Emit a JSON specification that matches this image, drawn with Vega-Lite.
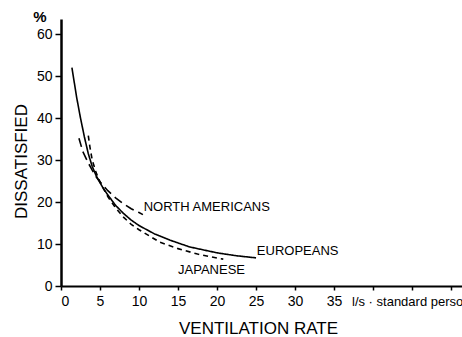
{
  "$schema": "https://vega.github.io/schema/vega-lite/v6.json",
  "width": 401,
  "height": 267,
  "autosize": {"type": "none"},
  "padding": {"left": 61, "top": 19, "right": 0, "bottom": 51},
  "background": "white",
  "config": {
    "view": {"stroke": null},
    "font": "Liberation Sans",
    "axis": {"labelFont": "Liberation Sans", "titleFont": "Liberation Sans", "labelColor": "black", "titleColor": "black", "domainColor": "black", "tickColor": "black", "grid": false}
  },
  "datasets": {
    "curves": [
      {"group": "Europeans", "q": 1.4, "pd": 52},
      {"group": "Europeans", "q": 2, "pd": 45},
      {"group": "Europeans", "q": 2.5, "pd": 40},
      {"group": "Europeans", "q": 3, "pd": 35.5},
      {"group": "Europeans", "q": 3.5, "pd": 31.5},
      {"group": "Europeans", "q": 4, "pd": 28.5},
      {"group": "Europeans", "q": 4.5, "pd": 26.3},
      {"group": "Europeans", "q": 5, "pd": 24.6},
      {"group": "Europeans", "q": 5.5, "pd": 23},
      {"group": "Europeans", "q": 6, "pd": 21.7},
      {"group": "Europeans", "q": 7, "pd": 19.2},
      {"group": "Europeans", "q": 8, "pd": 17.3},
      {"group": "Europeans", "q": 9, "pd": 15.7},
      {"group": "Europeans", "q": 10, "pd": 14.4},
      {"group": "Europeans", "q": 12, "pd": 12.4},
      {"group": "Europeans", "q": 14, "pd": 10.9},
      {"group": "Europeans", "q": 16.5, "pd": 9.3},
      {"group": "Europeans", "q": 20, "pd": 7.9},
      {"group": "Europeans", "q": 22.5, "pd": 7.2},
      {"group": "Europeans", "q": 25, "pd": 6.7},
      {"group": "North Americans", "q": 2.3, "pd": 35.2},
      {"group": "North Americans", "q": 2.8, "pd": 32},
      {"group": "North Americans", "q": 3.5, "pd": 29.3},
      {"group": "North Americans", "q": 4, "pd": 27.6},
      {"group": "North Americans", "q": 4.5, "pd": 26},
      {"group": "North Americans", "q": 5, "pd": 24.8},
      {"group": "North Americans", "q": 6, "pd": 22.7},
      {"group": "North Americans", "q": 7, "pd": 21},
      {"group": "North Americans", "q": 8, "pd": 19.6},
      {"group": "North Americans", "q": 9, "pd": 18.4},
      {"group": "North Americans", "q": 10, "pd": 17.5},
      {"group": "North Americans", "q": 10.5, "pd": 17},
      {"group": "Japanese", "q": 3.5, "pd": 35.8},
      {"group": "Japanese", "q": 3.7, "pd": 33.2},
      {"group": "Japanese", "q": 4, "pd": 30},
      {"group": "Japanese", "q": 4.5, "pd": 27},
      {"group": "Japanese", "q": 5, "pd": 24.8},
      {"group": "Japanese", "q": 6, "pd": 21.3},
      {"group": "Japanese", "q": 7, "pd": 18.6},
      {"group": "Japanese", "q": 8, "pd": 16.4},
      {"group": "Japanese", "q": 9, "pd": 14.7},
      {"group": "Japanese", "q": 10, "pd": 13.4},
      {"group": "Japanese", "q": 12.7, "pd": 10.4},
      {"group": "Japanese", "q": 15, "pd": 8.9},
      {"group": "Japanese", "q": 17.5, "pd": 7.6},
      {"group": "Japanese", "q": 20.4, "pd": 6.5},
      {"group": "Japanese", "q": 20.8, "pd": 6.4}
    ],
    "labels": [
      {"text": "NORTH AMERICANS", "q": 10.6, "pd": 18.8},
      {"text": "EUROPEANS", "q": 25.1, "pd": 8.3},
      {"text": "JAPANESE", "q": 15.0, "pd": 3.8},
      {"text": "l/s · standard person", "q": 37.3, "pd": -3.8}
    ],
    "unit": [
      {"text": "%", "q": -2.7, "pd": 64.0}
    ]
  },
  "layer": [
    {
      "data": {"name": "curves"},
      "mark": {"type": "line", "strokeWidth": 1.6, "color": "black", "clip": false},
      "encoding": {
        "x": {
          "field": "q", "type": "quantitative",
          "scale": {"domain": [0, 51.4], "nice": false, "zero": false},
          "axis": {
            "values": [0, 5, 10, 15, 20, 25, 30, 35, 40, 45, 50],
            "labelExpr": "datum.value <= 35 ? datum.label : ''",
            "domainWidth": 2, "tickSize": 4, "tickWidth": 1.5,
            "labelFontSize": 14, "labelPadding": 4,
            "title": "VENTILATION RATE", "titleFontSize": 17, "titleFontWeight": "normal",
            "titleX": 197, "titleY": 42, "titleBaseline": "middle", "titleAnchor": "middle", "titleAlign": "center"
          }
        },
        "y": {
          "field": "pd", "type": "quantitative",
          "scale": {"domain": [0, 63.6], "nice": false, "zero": false},
          "axis": {
            "values": [0, 10, 20, 30, 40, 50, 60],
            "domainWidth": 2.5, "tickSize": 6, "tickWidth": 1.5,
            "labelFontSize": 14, "labelPadding": 3,
            "title": "DISSATISFIED", "titleFontSize": 17, "titleFontWeight": "normal",
            "titleX": -40, "titleY": 142, "titleBaseline": "middle", "titleAngle": -90, "titleAlign": "center"
          }
        },
        "detail": {"field": "group"},
        "strokeDash": {
          "field": "group", "type": "nominal",
          "scale": {"domain": ["Europeans", "North Americans", "Japanese"], "range": [[1, 0], [9, 5], [5, 4]]},
          "legend": null
        }
      }
    },
    {
      "data": {"name": "labels"},
      "mark": {"type": "text", "baseline": "middle", "align": "left", "color": "black", "font": "Liberation Sans", "fontSize": 13},
      "encoding": {
        "x": {"field": "q", "type": "quantitative"},
        "y": {"field": "pd", "type": "quantitative"},
        "text": {"field": "text"}
      }
    },
    {
      "data": {"name": "unit"},
      "mark": {"type": "text", "baseline": "middle", "align": "center", "color": "black", "font": "Liberation Sans", "fontSize": 15, "fontWeight": "bold"},
      "encoding": {
        "x": {"field": "q", "type": "quantitative"},
        "y": {"field": "pd", "type": "quantitative"},
        "text": {"field": "text"}
      }
    },
    {
      "mark": {"type": "rule", "color": "black", "strokeWidth": 2},
      "encoding": {
        "y": {"datum": 63.6, "type": "quantitative"}
      }
    }
  ]
}
